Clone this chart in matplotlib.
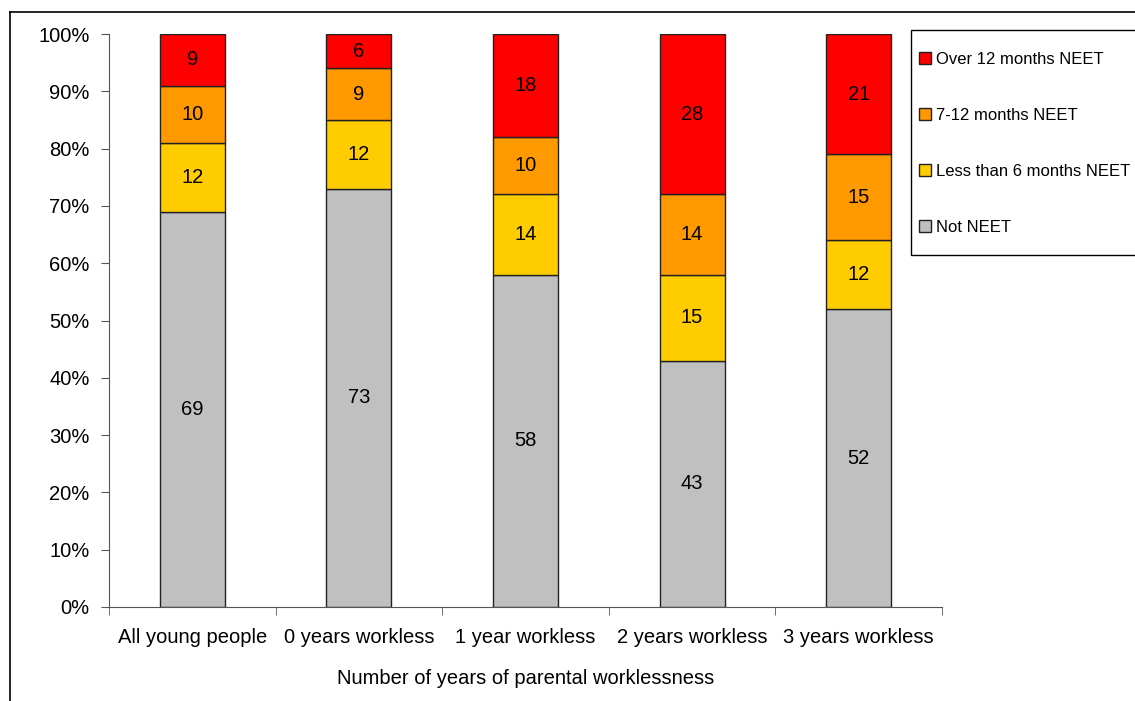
import numpy as np
import matplotlib.pyplot as plt
from matplotlib.lines import Line2D
from matplotlib.patches import Rectangle

plt.rcParams['font.family'] = ['Liberation Sans', 'DejaVu Sans']

categories = ['All young people', '0 years workless', '1 year workless',
              '2 years workless', '3 years workless']
not_neet = [69, 73, 58, 43, 52]
less_6 = [12, 12, 14, 15, 12]
m7_12 = [10, 9, 10, 14, 15]
over_12 = [9, 6, 18, 28, 21]

series = [
    ('Not NEET', not_neet, '#C0C0C0'),
    ('Less than 6 months NEET', less_6, '#FFCC00'),
    ('7-12 months NEET', m7_12, '#FF9900'),
    ('Over 12 months NEET', over_12, '#FF0000'),
]

W, H = 1135, 701
fig = plt.figure(figsize=(W / 100, H / 100), dpi=100)
ax = fig.add_axes([109 / W, 1 - 607 / H, (942 - 109) / W, (607 - 34) / H])

x = np.arange(len(categories))
bottom = np.zeros(len(categories))
handles = []
for name, vals, color in series:
    vals = np.array(vals, dtype=float)
    bars = ax.bar(x, vals, bottom=bottom, width=0.39, color=color,
                  edgecolor='#222222', linewidth=1.0, label=name)
    for xi, b, v in zip(x, bottom, vals):
        ax.text(xi, b + v / 2, f'{int(v)}', ha='center', va='center', fontsize=14.5)
    handles.append(bars)
    bottom += vals

ax.set_xlim(-0.5, len(categories) - 0.5)
ax.set_ylim(0, 100)
ax.set_yticks(np.arange(0, 101, 10))
ax.set_yticklabels([f'{v}%' for v in range(0, 101, 10)], fontsize=14.5)
ax.set_xticks(x)
ax.set_xticklabels(categories, fontsize=14.5)
ax.tick_params(axis='x', which='major', length=0, pad=15)
ax.set_xticks(np.arange(-0.5, len(categories), 1), minor=True)
ax.tick_params(axis='x', which='minor', length=6, color='#555555')
ax.tick_params(axis='y', length=6, color='#555555', pad=8)
ax.set_xlabel('Number of years of parental worklessness', fontsize=14.5, labelpad=16)

for s in ['top', 'right']:
    ax.spines[s].set_visible(False)
for s in ['left', 'bottom']:
    ax.spines[s].set_color('#555555')

# legend box drawn separately so the entries can sit closer to its left edge
fig.add_artist(Rectangle((911 / W, 1 - 255 / H), (W - 911) / W + 0.01, 225 / H,
                         transform=fig.transFigure, facecolor='white',
                         edgecolor='black', linewidth=1.0))
leg = fig.legend(handles[::-1], [s[0] for s in series][::-1],
                 loc='upper left', bbox_to_anchor=(914 / W, 1 - 47 / H),
                 fontsize=12.0, frameon=False,
                 handlelength=0.7, handleheight=0.7, handletextpad=0.35,
                 labelspacing=2.45, borderpad=0.3, borderaxespad=0)

# outer chart frame
fig.add_artist(Line2D([10 / W, 1], [1 - 12 / H, 1 - 12 / H],
                      transform=fig.transFigure, color='black', linewidth=1.2))
fig.add_artist(Line2D([10 / W, 10 / W], [0, 1 - 12 / H],
                      transform=fig.transFigure, color='black', linewidth=1.2))

fig.savefig('out.png', dpi=100)
